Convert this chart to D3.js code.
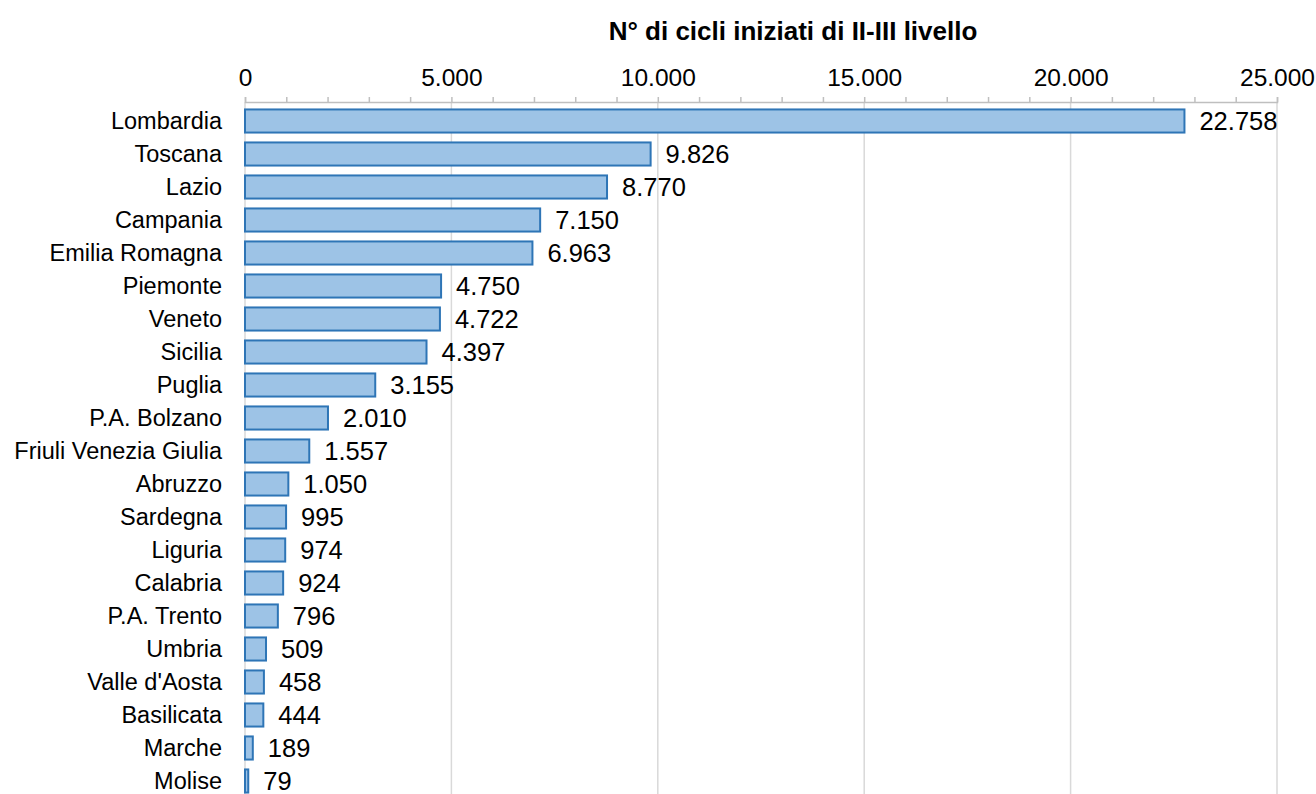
<!DOCTYPE html>
<html>
<head>
<meta charset="utf-8">
<script src="https://cdn.jsdelivr.net/npm/d3@7"></script>
<style>
  body { margin: 0; background: #fff; }
  text { font-family: "Liberation Sans", Arial, sans-serif; fill: #000; }
</style>
</head>
<body>
<svg id="chart" width="1316" height="794"></svg>
<script>
// Regions and number of cycles started (II-III level)
const regions = ['Lombardia', 'Toscana', 'Lazio', 'Campania', 'Emilia Romagna', 'Piemonte',
  'Veneto', 'Sicilia', 'Puglia', 'P.A. Bolzano', 'Friuli Venezia Giulia', 'Abruzzo',
  'Sardegna', 'Liguria', 'Calabria', 'P.A. Trento', 'Umbria', "Valle d'Aosta",
  'Basilicata', 'Marche', 'Molise'];
const cycles = [22758, 9826, 8770, 7150, 6963, 4750, 4722, 4397, 3155, 2010, 1557, 1050,
  995, 974, 924, 796, 509, 458, 444, 189, 79];
const majorTicks = [0, 5000, 10000, 15000, 20000, 25000];
const title = 'N° di cicli iniziati di II-III livello';

const it = d3.formatLocale({ decimal: ',', thousands: '.', grouping: [3], currency: ['€', ''] });
const fmt = it.format(',d');

const svg = d3.select('#chart');
const axisY = 102;

const x = d3.scaleLinear().domain([0, 25000]).range([245, 1277]);
const y = d3.scaleBand()
  .domain(regions)
  .range([104.5, 797.5])
  .paddingInner(0.3)
  .paddingOuter(0.15);

// title
svg.append('text')
  .attr('x', 793)
  .attr('y', 40)
  .attr('text-anchor', 'middle')
  .style('font-size', '26px')
  .style('font-weight', 'bold')
  .text(title);

// vertical gridlines at major ticks
svg.append('g')
  .selectAll('line')
  .data(majorTicks)
  .enter()
  .append('line')
  .attr('x1', (d) => x(d))
  .attr('x2', (d) => x(d))
  .attr('y1', axisY)
  .attr('y2', 794)
  .attr('stroke', '#d9d9d9')
  .attr('stroke-width', 1.5);

// top axis with minor ticks every 1000
const axis = d3.axisTop(x)
  .tickValues(d3.range(0, 25001, 1000))
  .tickSize(5)
  .tickFormat((d) => (d % 5000 === 0 ? fmt(d) : ''));

const gAxis = svg.append('g')
  .attr('transform', `translate(0, ${axisY})`)
  .call(axis);
gAxis.select('.domain').attr('stroke', '#bfbfbf').attr('stroke-width', 1.5);
gAxis.selectAll('.tick line').attr('stroke', '#bfbfbf').attr('stroke-width', 1.5);
gAxis.selectAll('.tick text')
  .attr('y', -16)
  .attr('dy', 0)
  .style('font-size', '24.5px')
  .style('font-family', '"Liberation Sans", Arial, sans-serif')
  .attr('fill', '#000');

// bars
svg.append('g')
  .selectAll('rect')
  .data(cycles)
  .enter()
  .append('rect')
  .attr('x', x(0))
  .attr('y', (d, i) => y(regions[i]))
  .attr('width', (d) => x(d) - x(0))
  .attr('height', y.bandwidth())
  .attr('fill', '#9dc3e6')
  .attr('stroke', '#2e75b6')
  .attr('stroke-width', 2);

// value labels
svg.append('g')
  .selectAll('text')
  .data(cycles)
  .enter()
  .append('text')
  .attr('x', (d) => x(d) + 15)
  .attr('y', (d, i) => y(regions[i]) + y.bandwidth() / 2)
  .attr('dy', '0.36em')
  .style('font-size', '25.5px')
  .text((d) => fmt(d));

// category labels
svg.append('g')
  .selectAll('text')
  .data(regions)
  .enter()
  .append('text')
  .attr('x', 222)
  .attr('y', (d) => y(d) + y.bandwidth() / 2)
  .attr('dy', '0.36em')
  .attr('text-anchor', 'end')
  .style('font-size', '23.5px')
  .text((d) => d);
</script>
</body>
</html>
